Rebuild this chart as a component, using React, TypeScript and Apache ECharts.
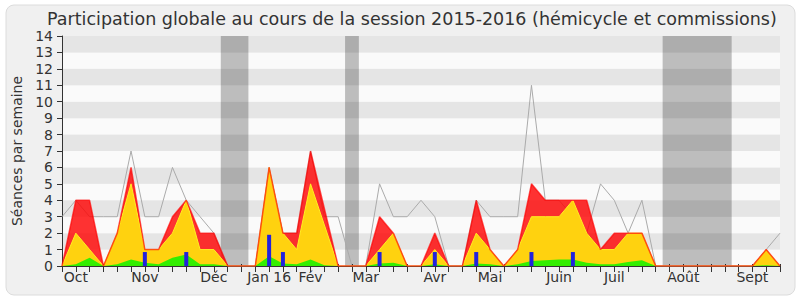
import React, { useEffect, useRef } from "react";
import * as echarts from "echarts";

const TITLE = "Participation globale au cours de la session 2015-2016 (hémicycle et commissions)";
const Y_NAME = "Séances par semaine";

// Month labels at the week index where each month starts
const monthWeeks = [1, 6, 11, 15, 18, 22, 27, 31, 36, 40, 45, 50];
const monthNames = ["Oct", "Nov", "Déc", "Jan 16", "Fév", "Mar", "Avr", "Mai", "Juin", "Juil", "Août", "Sept"];

// Weekly values (53 weeks)
const presencesTotal = [0, 4, 4, 0, 2, 6, 1, 1, 3, 4, 2, 2, 0, 0, 0, 6, 2, 2, 7, 3.5, 0, 0, 0, 3, 2, 0, 0, 2, 0, 0, 4, 1, 0, 1, 5, 4, 4, 4, 4, 1, 2, 2, 2, 0, 0, 0, 0, 0, 0, 0, 0, 1, 0];
const presencesCommission = [0, 2, 1, 0, 2, 5, 1, 1, 2, 4, 1, 1, 0, 0, 0, 6, 2, 1, 5, 2.5, 0, 0, 0, 1, 2, 0, 0, 1, 0, 0, 2, 1, 0, 1, 3, 3, 3, 4, 2, 1, 1, 2, 2, 0, 0, 0, 0, 0, 0, 0, 0, 1, 0];
const presencesHemicycle = [0, 0.1, 0.5, 0, 0.1, 0.4, 0.2, 0.1, 0.5, 0.7, 0.1, 0.1, 0, 0, 0, 0.6, 0.15, 0.1, 0.4, 0.05, 0, 0, 0, 0.15, 0.2, 0, 0, 0.1, 0, 0, 0.15, 0.1, 0, 0.1, 0.3, 0.35, 0.4, 0.4, 0.2, 0.1, 0.1, 0.25, 0.35, 0, 0, 0, 0, 0, 0, 0, 0, 0.05, 0];
const interventions = [0, 0, 0, 0, 0, 0, 0.85, 0, 0, 0.85, 0, 0, 0, 0, 0, 1.9, 0.85, 0, 0, 0, 0, 0, 0, 0.85, 0, 0, 0, 0.85, 0, 0, 0.85, 0, 0, 0, 0.85, 0, 0, 0.85, 0, 0, 0, 0, 0, 0, 0, 0, 0, 0, 0, 0, 0, 0, 0];
const medianeDeputes = [3, 4, 3, 3, 3, 7, 3, 3, 6, 4, 3, 2, 0, 0, 0, 6, 2, 2, 7, 3, 3, 0, 0, 5, 3, 3, 4, 3, 0, 0, 4, 3, 3, 3, 11, 4, 4, 3, 2, 5, 4, 2, 4, 0, 0, 0, 0, 0, 0, 0, 0, 1, 2];

// Parliamentary holidays (week index ranges)
const vacancesDebut = [11.5, 20.5, 43.5];
const vacancesFin = [13.5, 21.5, 48.5];

const FONT = "DejaVu Sans";

export default function App() {
  const ref = useRef<HTMLDivElement>(null);

  useEffect(() => {
    if (!ref.current) return;
    const chart = echarts.init(ref.current, undefined, { renderer: "svg" });
    const pairs = (arr: number[]) => arr.map((v, i) => [i, v]);
    const labelFor = (v: number) => {
      const k = monthWeeks.indexOf(Math.round(v));
      return k >= 0 ? monthNames[k] : "";
    };
    const option: any = {
      animation: false,
      backgroundColor: "#ffffff",
      title: {
        text: TITLE,
        left: 42,
        top: 5,
        textStyle: { fontFamily: FONT, fontSize: 17.5, fontWeight: "normal", color: "#333333" },
      },
      graphic: [
        {
          type: "rect",
          silent: true,
          z: -100,
          shape: { x: 6, y: 5, width: 789, height: 290, r: 8 },
          style: { fill: "#f0f0f0", stroke: "#dcdcdc", lineWidth: 1 },
        },
      ],
      grid: { left: 62, right: 20, top: 36, bottom: 34, containLabel: false },
      xAxis: [
        {
          type: "value",
          min: 0,
          max: 52,
          interval: 1,
          position: "bottom",
          axisLine: { show: true, onZero: false, lineStyle: { color: "#333333", width: 1 } },
          axisTick: { show: true, length: 6, lineStyle: { color: "#333333" } },
          axisLabel: {
            formatter: labelFor,
            fontSize: 14,
            color: "#333333",
            margin: 4,
            fontFamily: FONT,
            showMinLabel: true,
            showMaxLabel: true,
          },
          splitLine: { show: false },
        },
        {
          type: "value",
          min: 0,
          max: 52,
          interval: 1,
          position: "top",
          axisLine: { show: false },
          axisTick: { show: true, length: 2, lineStyle: { color: "#333333" } },
          axisLabel: { show: false },
          splitLine: { show: false },
        },
      ],
      yAxis: {
        type: "value",
        min: 0,
        max: 14,
        interval: 1,
        axisLine: { show: true, lineStyle: { color: "#333333" } },
        axisTick: { show: true, length: 5, lineStyle: { color: "#333333" } },
        axisLabel: { fontSize: 14, color: "#333333", margin: 9, fontFamily: FONT },
        splitLine: { show: false },
        splitArea: { show: true, areaStyle: { color: ["#fafafa", "#e5e5e5"] } },
        name: Y_NAME,
        nameLocation: "middle",
        nameGap: 38,
        nameTextStyle: { fontSize: 14, color: "#333333", fontFamily: FONT },
      },
      series: [
        {
          name: "Médiane des députés",
          type: "line",
          data: pairs(medianeDeputes),
          symbol: "none",
          lineStyle: { color: "#aaaaaa", width: 1 },
          z: 1,
          markArea: {
            silent: true,
            itemStyle: { color: "rgba(0,0,0,0.245)" },
            data: vacancesDebut.map((d, k) => [{ xAxis: d }, { xAxis: vacancesFin[k] }]),
          },
        },
        {
          name: "Présences",
          type: "line",
          data: pairs(presencesTotal),
          symbol: "none",
          lineStyle: { width: 0 },
          areaStyle: { color: "rgba(255,0,0,0.8)", opacity: 1 },
          z: 2,
        },
        {
          name: "Commission",
          type: "line",
          data: pairs(presencesCommission),
          symbol: "none",
          lineStyle: { color: "#ffee22", width: 1 },
          areaStyle: { color: "#ffd20f", opacity: 1 },
          z: 3,
        },
        {
          name: "Hémicycle",
          type: "line",
          data: pairs(presencesHemicycle),
          symbol: "none",
          lineStyle: { width: 0 },
          areaStyle: { color: "#33ee00", opacity: 1 },
          z: 4,
        },
        {
          name: "Interventions",
          type: "bar",
          data: pairs(interventions),
          barWidth: 4,
          itemStyle: { color: "#2222dd" },
          z: 5,
        },
        {
          name: "Présences (contour)",
          type: "line",
          data: pairs(presencesTotal),
          symbol: "none",
          lineStyle: { color: "rgba(255,0,0,0.65)", width: 1.5 },
          z: 6,
        },
      ],
    };
    chart.setOption(option);
    return () => chart.dispose();
  }, []);

  return (
    <div
      ref={ref}
      style={{ position: "absolute", left: 0, top: 0, width: 800, height: 300 }}
    />
  );
}
